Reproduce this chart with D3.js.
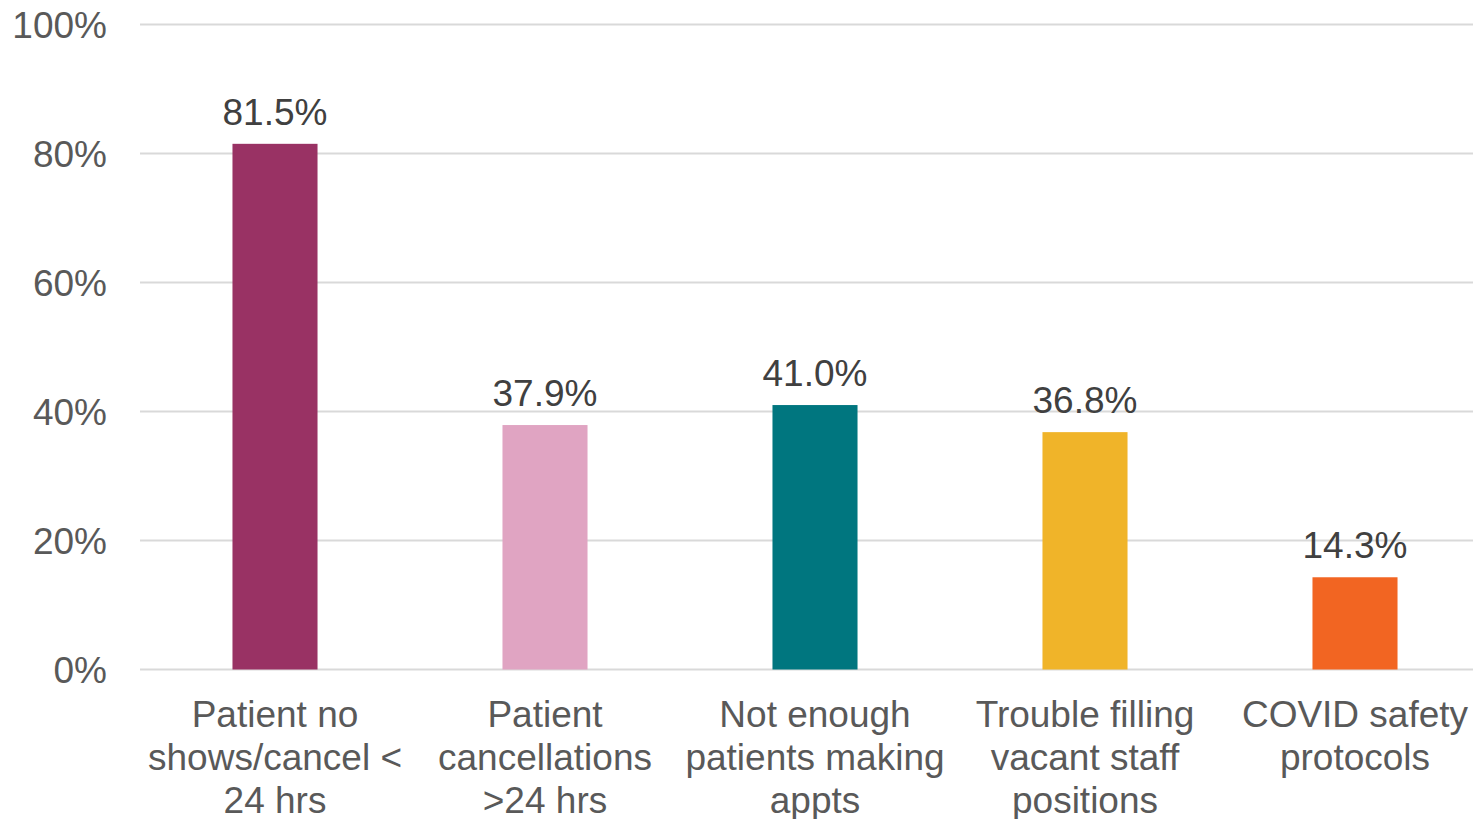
<!DOCTYPE html>
<html><head><meta charset="utf-8">
<script src="https://cdn.jsdelivr.net/npm/d3@7"></script>
<style>html,body{margin:0;padding:0;background:#fff;}svg{display:block;}</style>
</head><body>
<svg id="c" width="1473" height="819"></svg>
<script>
const categories = ["Patient no shows/cancel < 24 hrs","Patient cancellations >24 hrs","Not enough patients making appts","Trouble filling vacant staff positions","COVID safety protocols"];
const categoryLines = [["Patient no","shows/cancel <","24 hrs"],["Patient","cancellations",">24 hrs"],["Not enough","patients making","appts"],["Trouble filling","vacant staff","positions"],["COVID safety","protocols"]];
const values = [81.5, 37.9, 41.0, 36.8, 14.3];
const colors = ["#993264","#E0A4C2","#00767F","#F0B429","#F26522"];
const yTicks = [0,20,40,60,80,100];

const svg = d3.select("#c");
const font = "'Liberation Sans', Arial, sans-serif";
const fs = 37;
const x = d3.scaleBand().domain(categories).range([140,1490]).paddingInner(0.685).paddingOuter(0.3425);
const y = d3.scaleLinear().domain([0,100]).range([669.5,24.5]);

svg.append("g").selectAll("line").data(yTicks).join("line")
  .attr("x1",140).attr("x2",1473).attr("y1",d=>y(d)).attr("y2",d=>y(d))
  .attr("stroke","#D9D9D9").attr("stroke-width",2);

svg.append("g").selectAll("text").data(yTicks).join("text")
  .attr("x",107).attr("y",d=>y(d)+13).attr("text-anchor","end")
  .attr("font-family",font).attr("font-size",fs).attr("fill","#595959")
  .text(d=>d+"%");

svg.append("g").selectAll("rect").data(values).join("rect")
  .attr("x",(d,i)=>x(categories[i])).attr("width",x.bandwidth())
  .attr("y",d=>y(d)).attr("height",d=>y(0)-y(d))
  .attr("fill",(d,i)=>colors[i]);

svg.append("g").selectAll("text").data(values).join("text")
  .attr("x",(d,i)=>x(categories[i])+x.bandwidth()/2).attr("y",d=>y(d)-19)
  .attr("text-anchor","middle").attr("font-family",font).attr("font-size",fs).attr("fill","#404040")
  .text(d=>d.toFixed(1)+"%");

const lab = svg.append("g").selectAll("text").data(categoryLines).join("text")
  .attr("text-anchor","middle").attr("font-family",font).attr("font-size",fs).attr("fill","#595959");
lab.each(function(lines,i){
  const cx = x(categories[i])+x.bandwidth()/2;
  d3.select(this).selectAll("tspan").data(lines).join("tspan")
    .attr("x",cx).attr("y",(l,j)=>727+j*43).text(l=>l);
});
</script>
</body></html>
